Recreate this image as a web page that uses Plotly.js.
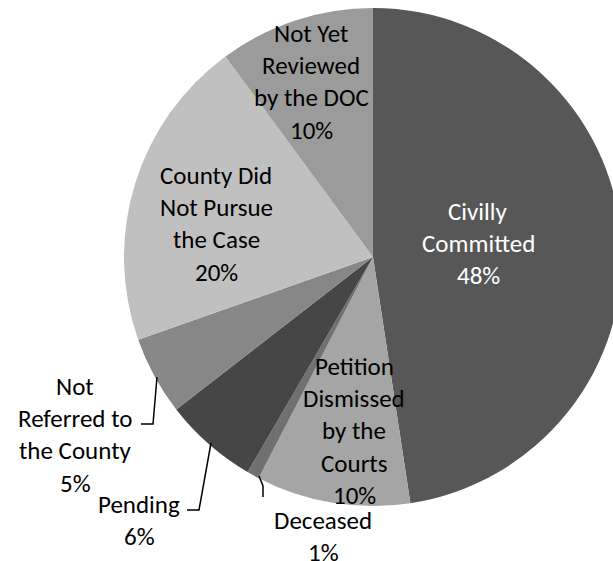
<!DOCTYPE html>
<html>
<head>
<meta charset="utf-8">
<script src="https://cdn.plot.ly/plotly-3.0.1.min.js"></script>
<style>
html, body { margin: 0; padding: 0; overflow: hidden; background: #fff; }
#chart { width: 640px; height: 561px; }
</style>
</head>
<body>
<div id="chart"></div>
<script>
// ---- data ----
const categories = [
  'Civilly Committed',
  'Petition Dismissed by the Courts',
  'Deceased',
  'Pending',
  'Not Referred to the County',
  'County Did Not Pursue the Case',
  'Not Yet Reviewed by the DOC'
];
const values = [47.6, 10.0, 0.8, 6.1, 5.1, 20.3, 10.1];
const labelLines = [
  ['Civilly', 'Committed'],
  ['Petition', 'Dismissed', 'by the', 'Courts'],
  ['Deceased'],
  ['Pending'],
  ['Not', 'Referred to', 'the County'],
  ['County Did', 'Not Pursue', 'the Case'],
  ['Not Yet', 'Reviewed', 'by the DOC']
];

// ---- styles / layout ----
const W = 640, H = 561;
const colors = ['#575757', '#a5a5a5', '#707070', '#464646', '#878787', '#c0c0c0', '#9b9b9b'];
const textColors = ['#ffffff', '#000000', '#000000', '#000000', '#000000', '#000000', '#000000'];
// label block anchor (px): center x, first line y
const labelPos = [[478, 210], [354, 365], [323, 519], [139, 503], [75, 385], [216, 174], [311, 32]];
const lineGap = 32.4;
const FONT = 'Carlito, Lato, sans-serif';
const FSIZE = 25;

const total = values.reduce((a, b) => a + b, 0);
const px = x => x / W;
const py = y => 1 - y / H;

const annotations = [];
categories.forEach((c, i) => {
  const lines = labelLines[i].concat([Math.round(values[i] / total * 100) + '%']);
  lines.forEach((t, j) => {
    annotations.push({
      text: t, xref: 'paper', yref: 'paper',
      x: px(labelPos[i][0]), y: py(labelPos[i][1] + j * lineGap + 1),
      xanchor: 'center', yanchor: 'middle', showarrow: false,
      font: { family: FONT, size: FSIZE, color: textColors[i] }
    });
  });
});

const leaders = [
  [[141, 424], [153, 424], [157, 377]],
  [[187, 510], [199, 510], [211, 443]],
  [[263, 497], [263, 486], [259, 476]]
];
const shapes = leaders.map(pts => ({
  type: 'path', xref: 'paper', yref: 'paper',
  path: pts.map((p, k) => (k ? 'L' : 'M') + px(p[0]) + ',' + py(p[1])).join(' '),
  line: { color: '#000', width: 1.5 }
}));

const trace = {
  type: 'pie',
  labels: categories,
  values: values,
  sort: false,
  direction: 'clockwise',
  rotation: 0,
  textinfo: 'none',
  hoverinfo: 'label+percent',
  marker: { colors: colors, line: { width: 0 } },
  domain: { x: [124 / W, 622 / W], y: [(H - 257 - 249) / H, (H - 257 + 249) / H] },
  showlegend: false
};

Plotly.newPlot('chart', [trace], {
  width: W, height: H,
  margin: { l: 0, r: 0, t: 0, b: 0 },
  paper_bgcolor: '#ffffff',
  showlegend: false,
  annotations: annotations,
  shapes: shapes
}, { displayModeBar: false, staticPlot: true });
</script>
</body>
</html>
